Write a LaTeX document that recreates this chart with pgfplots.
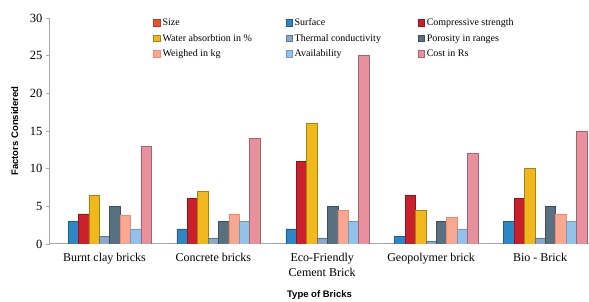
\documentclass[border=0pt]{standalone}
\usepackage{pgfplots}
\pgfplotsset{compat=1.18}
\usepackage{fontspec}
\setmainfont{Liberation Serif}
\setsansfont{Liberation Sans}
\definecolor{cSize}{HTML}{E8532A}
\definecolor{cSurf}{HTML}{2F86C6}
\definecolor{cComp}{HTML}{C9202B}
\definecolor{cWater}{HTML}{F0B81C}
\definecolor{cTherm}{HTML}{8CA8C8}
\definecolor{cPor}{HTML}{587080}
\definecolor{cWeigh}{HTML}{F8A890}
\definecolor{cAvail}{HTML}{92C2EA}
\definecolor{cCost}{HTML}{E8909E}
\definecolor{axgray}{HTML}{A8A8A8}
\begin{document}
\begin{tikzpicture}
\path[use as bounding box] (-50pt,-58pt) rectangle (539pt,244pt);
\begin{axis}[
  at={(0,0)}, anchor=south west,
  scale only axis, width=539pt, height=226pt,
  ybar=0pt, bar width=10.4pt,
  xmin=-0.5, xmax=4.45, ymin=0, ymax=30,
  xtick={0,1,2,3,4},
  xticklabels={Burnt clay bricks,Concrete bricks,{Eco-Friendly\\Cement Brick},Geopolymer brick,Bio - Brick},
  xticklabel style={font=\fontsize{12}{14.5}\selectfont, align=center, yshift=-2pt},
  ytick={0,5,...,30},
  yticklabels={0,5,10,15,20,25,30},
  yticklabel style={font=\rmfamily\fontsize{12.5}{14}\selectfont},
  axis x line*=bottom, axis y line*=left,
  axis line style={axgray, line width=1pt, -},
  x axis line style={-}, y axis line style={-},
  major x tick style={draw=none},
  major y tick style={axgray, line width=0.8pt},
  tick align=outside, major tick length=4pt,
  xlabel={\sffamily\bfseries Type of Bricks},
  ylabel={\sffamily\bfseries Factors Considered},
  xlabel style={font=\fontsize{9.5}{11}\selectfont, yshift=-7pt},
  ylabel style={font=\fontsize{9.5}{11}\selectfont, yshift=5pt},
  legend columns=3,
  legend cell align=left,
  legend style={draw=none, fill=none, at={(0.186,1.015)}, anchor=north west,
    font=\fontsize{10}{12}\selectfont, row sep=3pt,
    /tikz/every even column/.append style={column sep=1pt}},
  legend image code/.code={\draw[#1, line width=0.6pt] (0pt,-3pt) rectangle (6.5pt,3.5pt);},
]
\addplot[fill=cSize, draw=cSize!75!black, line width=0.6pt] coordinates {(0,0) (1,0) (2,0) (3,0) (4,0)};
\addplot[fill=cSurf, draw=cSurf!70!black, line width=0.6pt] coordinates {(0,3) (1,2) (2,2) (3,1) (4,3)};
\addplot[fill=cComp, draw=cComp!70!black, line width=0.6pt] coordinates {(0,4) (1,6) (2,11) (3,6.4) (4,6)};
\addplot[fill=cWater, draw=cWater!70!black, line width=0.6pt] coordinates {(0,6.5) (1,7) (2,16) (3,4.5) (4,10)};
\addplot[fill=cTherm, draw=cTherm!70!black, line width=0.6pt] coordinates {(0,1) (1,0.8) (2,0.8) (3,0.4) (4,0.8)};
\addplot[fill=cPor, draw=cPor!70!black, line width=0.6pt] coordinates {(0,5) (1,3) (2,5) (3,3) (4,5)};
\addplot[fill=cWeigh, draw=cWeigh!80!red, line width=0.6pt] coordinates {(0,3.8) (1,4) (2,4.5) (3,3.5) (4,4)};
\addplot[fill=cAvail, draw=cAvail!80!black, line width=0.6pt] coordinates {(0,2) (1,3) (2,3) (3,2) (4,3)};
\addplot[fill=cCost, draw=cCost!70!black, line width=0.6pt] coordinates {(0,13) (1,14) (2,25) (3,12) (4,15)};
\legend{\makebox[120pt][l]{Size},\makebox[120pt][l]{Surface},Compressive strength,
  \makebox[120pt][l]{Water absorbtion in \%},\makebox[120pt][l]{Thermal conductivity},Porosity in ranges,
  \makebox[120pt][l]{Weighed in kg},\makebox[120pt][l]{Availability},Cost in Rs}
\end{axis}
\end{tikzpicture}
\end{document}
